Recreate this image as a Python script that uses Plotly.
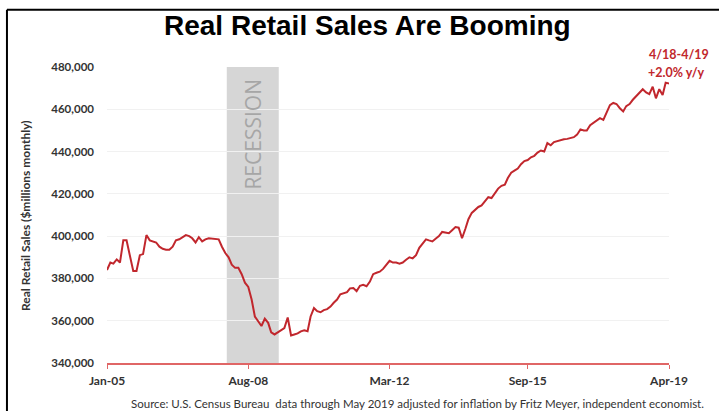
import pandas as pd
import plotly.graph_objects as go

# Monthly real retail sales ($ millions), Jan-2005 .. Apr-2019
sales_2005 = [384.0, 387.5, 387.0, 389.0, 387.5, 398.0, 398.0, 390.0, 383.5, 383.5, 391.0, 391.5]
sales_2006 = [400.5, 398.0, 397.5, 397.0, 395.0, 394.0, 393.6, 393.6, 395.0, 398.0, 398.5, 399.5]
sales_2007 = [400.5, 400.0, 399.0, 397.0, 399.5, 397.5, 398.5, 399.0, 398.8, 398.7, 398.5, 395.0]
sales_2008 = [392.0, 390.0, 386.5, 385.0, 385.0, 382.0, 378.0, 376.0, 370.0, 362.0, 359.5, 357.5]
sales_2009 = [361.0, 359.0, 354.5, 353.5, 354.5, 355.5, 356.5, 361.5, 353.0, 353.5, 354.0, 355.0]
sales_2010 = [355.5, 355.0, 362.0, 366.0, 364.5, 364.0, 365.0, 365.5, 366.7, 368.5, 370.0, 372.5]
sales_2011 = [373.0, 373.5, 375.3, 375.5, 374.0, 376.5, 377.0, 376.3, 378.5, 382.0, 382.7, 383.2]
sales_2012 = [384.5, 386.5, 388.3, 387.5, 387.5, 387.0, 387.5, 388.8, 390.0, 389.5, 391.0, 394.5]
sales_2013 = [396.5, 398.5, 398.0, 397.5, 398.8, 400.0, 402.0, 401.8, 401.4, 402.8, 404.3, 404.0]
sales_2014 = [399.0, 403.5, 408.0, 411.0, 412.5, 413.8, 414.5, 416.5, 418.4, 418.0, 420.5, 422.5]
sales_2015 = [423.8, 424.3, 427.5, 430.0, 431.0, 432.0, 434.0, 435.5, 436.0, 437.3, 438.0, 439.5]
sales_2016 = [440.5, 440.0, 444.0, 443.0, 444.5, 445.0, 445.5, 445.8, 446.0, 446.3, 446.8, 448.0]
sales_2017 = [450.5, 450.0, 450.0, 452.5, 453.5, 454.5, 455.8, 455.0, 459.0, 462.0, 463.0, 462.5]
sales_2018 = [460.5, 459.0, 461.5, 462.5, 464.5, 466.3, 468.0, 469.5, 468.0, 467.2, 470.7, 465.2]
sales_2019 = [469.5, 466.8, 472.6, 472.2]

sales_thousands = (sales_2005 + sales_2006 + sales_2007 + sales_2008 + sales_2009 + sales_2010
                   + sales_2011 + sales_2012 + sales_2013 + sales_2014 + sales_2015 + sales_2016
                   + sales_2017 + sales_2018 + sales_2019)
sales = [v * 1000 for v in sales_thousands]
months = pd.date_range("2005-01-01", periods=len(sales), freq="MS")

tick_dates = ["2005-01-01", "2008-08-01", "2012-03-01", "2015-09-01", "2019-04-01"]
tick_labels = ["Jan-05", "Aug-08", "Mar-12", "Sep-15", "Apr-19"]
y_ticks = [340000, 360000, 380000, 400000, 420000, 440000, 460000, 480000]
y_labels = ["340,000", "360,000", "380,000", "400,000", "420,000", "440,000", "460,000", "480,000"]
recession = ("2008-01-15", "2009-05-10")

RED = "#c1272d"

fig = go.Figure()
fig.add_trace(go.Scatter(x=months, y=sales, mode="lines",
                         line=dict(color=RED, width=2), hoverinfo="skip"))

fig.add_shape(type="rect", xref="x", yref="y", x0=recession[0], x1=recession[1],
              y0=340000, y1=480000, fillcolor="#d6d6d6", line=dict(width=0), layer="below")
fig.add_annotation(x=pd.Timestamp("2008-09-10"), y=448300, xref="x", yref="y",
                   text="RECESSION", textangle=-90, showarrow=False,
                   font=dict(family="Open Sans", size=21, color="#a6a6a6"))

fig.update_layout(
    width=719, height=411,
    margin=dict(l=107, r=50, t=67, b=48),
    paper_bgcolor="white", plot_bgcolor="white",
    showlegend=False,
    xaxis=dict(range=[months[0], pd.Timestamp("2019-04-01")],
               tickvals=tick_dates, ticktext=tick_labels,
               showgrid=False, zeroline=False,
               showline=True, linecolor="#e06666", linewidth=2,
               ticks="outside", ticklen=4, tickcolor="#e06666", tickwidth=1,
               tickfont=dict(family="Lato", size=12, color="#333333", weight="bold"),
               ticklabelstandoff=2),
    yaxis=dict(range=[340000, 480000], tickvals=y_ticks, ticktext=y_labels,
               showgrid=True, gridcolor="#f1f1f1", gridwidth=1, zeroline=False,
               showline=False, ticks="",
               tickfont=dict(family="Lato", size=11.5, color="#333333", weight="bold"),
               ticklabelstandoff=12),
)

fig.add_annotation(xref="paper", yref="paper", x=0.464, y=1, yshift=42, xanchor="center", yanchor="middle",
                   text="<b>Real Retail Sales Are Booming</b>", showarrow=False,
                   font=dict(family="Liberation Sans", size=28, color="black"))
fig.add_annotation(xref="paper", yref="paper", x=-0.146, y=0.5, xanchor="center", yanchor="middle",
                   text="<b>Real Retail Sales ($millions monthly)</b>", textangle=-90, showarrow=False,
                   font=dict(family="Lato", size=12, color="#333333"))
fig.add_annotation(xref="paper", yref="paper", x=1.018, y=1, yshift=13, xanchor="center", yanchor="middle",
                   text="<b>4/18-4/19</b>", showarrow=False,
                   font=dict(family="Lato", size=12.5, color=RED))
fig.add_annotation(xref="paper", yref="paper", x=1.013, y=1, yshift=-5, xanchor="center", yanchor="middle",
                   text="<b>+2.0% y/y</b>", showarrow=False,
                   font=dict(family="Lato", size=12.5, color=RED))
fig.add_annotation(xref="paper", yref="paper", x=1.065, y=0, yshift=-40, xanchor="right", yanchor="middle",
                   text="Source: U.S. Census Bureau  data through May 2019 adjusted for inflation by Fritz Meyer, independent economist.",
                   showarrow=False, font=dict(family="Lato", size=11.5, color="#333333"))

# frame lines
fig.add_shape(type="line", xref="paper", yref="paper", x0=-0.178, x1=1.09, y0=1.193, y1=1.193,
              line=dict(color="black", width=2))
fig.add_shape(type="line", xref="paper", yref="paper", x0=-0.178, x1=-0.178, y0=1.193, y1=-0.2,
              line=dict(color="black", width=2))

fig.write_html("out.html")
